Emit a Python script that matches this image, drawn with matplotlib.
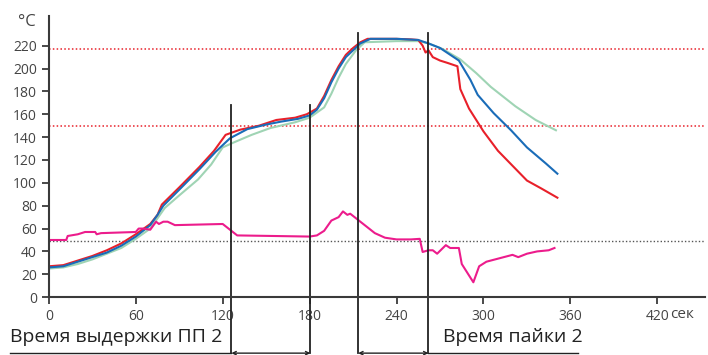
import matplotlib
matplotlib.use("Agg")
import matplotlib.pyplot as plt

plt.rcParams['font.family'] = ['Open Sans', 'DejaVu Sans']

# Profile curves (time in seconds, temperature in degC)
red_t = [0, 10, 20, 30, 40, 50, 60, 70, 75, 78, 90, 104, 114, 122, 132, 145, 157, 170, 178,
         185, 190, 195, 200, 205, 210, 215, 220, 230, 240, 250, 255, 258, 260, 262, 265, 270, 275,
         282, 284, 290, 300, 310, 320, 330, 340, 351]
red_v = [27, 28, 32, 36, 41, 47, 55, 64, 72, 81, 96, 114, 128, 142, 146.5, 150, 155, 157, 160,
         165, 176, 190, 202, 212, 218, 223, 226, 226, 226, 225.5, 225, 220, 214, 216, 210, 207, 205,
         202, 182, 165, 145, 128, 115, 102, 95, 87]

blue_t = [0, 10, 20, 30, 40, 50, 60, 70, 75, 79, 90, 104, 115, 125, 137, 150, 160, 172, 180,
          185, 190, 195, 200, 205, 215, 222, 240, 255, 262, 270, 283, 291, 296, 307, 319, 330, 343, 351]
blue_v = [26, 27, 31, 35, 39, 45, 53, 63, 72, 80, 94, 112, 127, 139, 147, 151, 153.5, 156, 159,
          164, 174, 188, 200, 210, 222, 226, 226, 225, 222, 218, 207, 190, 177, 161, 146, 131, 117, 108]

green_t = [0, 10, 20, 30, 40, 50, 60, 70, 80, 90, 103, 112, 120, 127, 140, 153, 170, 180, 190, 195,
           200, 205, 212, 218, 240, 255, 262, 272, 284, 295, 305, 322, 336, 350]
green_v = [25, 26, 29, 33, 38, 43, 51, 60, 78, 89, 103, 116, 131, 135, 142, 148, 153, 157, 166, 178,
           192, 204, 216, 223, 224, 224, 222, 217, 208, 196, 184, 167, 155, 146]

mag_t = [0, 12, 13, 20, 25, 32, 33, 36, 60, 62, 65, 70, 74, 76, 79, 82, 87, 120, 124, 130, 180,
         185, 190, 195, 200, 203, 206, 208, 215, 220, 225, 232, 240, 250, 256, 258, 262, 265, 268,
         274, 277, 283, 285, 293, 297, 302, 320, 324, 330, 337, 345, 349]
mag_v = [50, 50, 53.5, 55, 57, 57, 55, 56, 57, 60, 60, 59, 66, 64, 66, 66, 63, 64, 60, 54, 53,
         54, 58, 67, 70, 75, 72, 73, 66, 61, 56, 52, 50.5, 50.5, 51, 39.5, 41, 41, 38,
         45.5, 43, 43, 29, 13, 27, 31, 37, 35, 38, 40, 41, 43]

red_limits = [217, 150]
gray_limit = 49
phase_t = [126, 180.5, 213.5, 262]
phase_top = [168, 168, 231, 231]
xticks = [0, 60, 120, 180, 240, 300, 360, 420]
yticks = list(range(0, 221, 20))

fig = plt.figure(figsize=(7.08, 3.55), dpi=100)
ax = fig.add_axes([0.069, 0.163, 0.927, 0.792])
ax.set_xlim(0, 453)
ax.set_ylim(0, 246)

axis_col = '#3a3a3a'
for s in ['top', 'right']:
    ax.spines[s].set_visible(False)
for s in ['left', 'bottom']:
    ax.spines[s].set_color(axis_col)
    ax.spines[s].set_linewidth(1.5)
ax.tick_params(colors=axis_col, labelcolor='#444444', labelsize=10, width=1.3, length=5)
ax.set_xticks(xticks)
ax.set_yticks(yticks)

for v in red_limits:
    ax.axhline(v, color='#e8202a', lw=1.1, ls=(0, (1, 1.5)))
ax.axhline(gray_limit, color='#555555', lw=1.0, ls=(0, (1, 1.5)))

ax.plot(green_t, green_v, color='#9fd4b4', lw=1.5)
ax.plot(red_t, red_v, color='#e8202a', lw=1.5)
ax.plot(blue_t, blue_v, color='#1a6cb8', lw=1.5)
ax.plot(mag_t, mag_v, color='#ec1c8c', lw=1.5)

for t, top in zip(phase_t, phase_top):
    ax.plot([t, t], [-49, top], color='#222222', lw=1.3, clip_on=False)

# bottom arrows between phase lines
for a, b in [(phase_t[0], phase_t[1]), (phase_t[2], phase_t[3])]:
    ax.annotate('', xy=(a, -49), xytext=(b, -49), annotation_clip=False,
                arrowprops=dict(arrowstyle='<->', color='#222222', lw=1.0,
                                shrinkA=0, shrinkB=0, mutation_scale=6))
ax.plot([-27, phase_t[0]], [-49, -49], color='#222222', lw=1.0, clip_on=False)
ax.plot([phase_t[3], 365], [-49, -49], color='#222222', lw=1.0, clip_on=False)

ax.text(-27, -43, 'Время выдержки ПП 2', fontsize=14, color='#222222', ha='left', va='bottom')
ax.text(272, -43, 'Время пайки 2', fontsize=14, color='#222222', ha='left', va='bottom')

fig.text(0.025, 0.927, '°C', fontsize=12, color='#444444', ha='left', va='baseline')
fig.text(0.947, 0.093, 'сек', fontsize=11, color='#444444', ha='left', va='bottom')

fig.savefig('out.png', dpi=100)
